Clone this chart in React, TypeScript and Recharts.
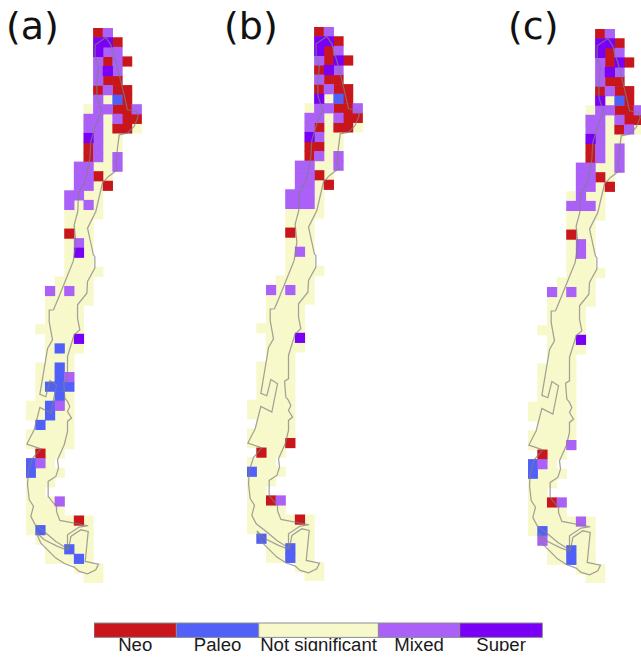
import { Bar, BarChart, Scatter, ScatterChart, XAxis, YAxis } from "recharts";

type Cell = [number, number]; // [column, row] on the grid

// study grid: [row, first column, last column]
const gridRows: [number, number, number][] = [
  [0, 7, 8], [1, 7, 9], [2, 7, 9], [3, 7, 10], [4, 7, 9], [5, 7, 9], [6, 7, 10], [7, 7, 10],
  [8, 6, 11], [9, 6, 11], [10, 6, 11], [11, 6, 9], [12, 6, 9], [13, 6, 9], [14, 5, 9],
  [15, 5, 8], [16, 5, 8], [17, 4, 7], [18, 4, 7], [19, 4, 7], [20, 4, 6], [21, 4, 6],
  [22, 4, 6], [23, 4, 6], [24, 4, 6], [25, 4, 7], [26, 3, 6], [27, 2, 6], [28, 2, 6],
  [29, 2, 5], [30, 2, 5], [31, 1, 5], [32, 2, 5], [33, 2, 5], [34, 2, 4], [35, 1, 4],
  [36, 1, 4], [37, 1, 4], [38, 1, 4], [39, 0, 4], [40, 0, 4], [41, 1, 4], [42, 0, 4],
  [43, 0, 4], [44, 1, 3], [45, 0, 2], [46, 0, 3], [47, 0, 2], [48, 0, 1], [49, 0, 3],
  [50, 0, 3], [51, 0, 6], [52, 0, 6], [53, 1, 6], [54, 2, 6], [55, 2, 6], [56, 5, 7], [57, 6, 7],
];

// panel (a)
const neoA: Cell[] = [
  [7, 0], [9, 1], [8, 3], [10, 3], [8, 5], [9, 5], [7, 6], [9, 6], [10, 6], [10, 7], [9, 8], [10, 8],
  [10, 9], [11, 9], [9, 10], [10, 10], [6, 12], [6, 13], [7, 15], [8, 16], [4, 21], [1, 44], [5, 51],
];
const paleoA: Cell[] = [
  [9, 7], [3, 33], [3, 35], [3, 36], [2, 37], [3, 37], [4, 37], [3, 38], [2, 39], [2, 40], [1, 41],
  [0, 45], [0, 46], [1, 52], [4, 54], [5, 55],
];
const mixedA: Cell[] = [
  [8, 0], [8, 2], [9, 2], [7, 3], [9, 3], [7, 4], [9, 4], [7, 5], [8, 6], [7, 7], [7, 8], [8, 8], [11, 8],
  [6, 9], [7, 9], [9, 9], [6, 10], [7, 10], [7, 11], [7, 12], [7, 13], [9, 13], [5, 14], [6, 14], [9, 14],
  [5, 15], [6, 15], [5, 16], [6, 16], [4, 17], [5, 17], [4, 18], [6, 18], [5, 22], [2, 27], [4, 27],
  [4, 36], [3, 39], [1, 45], [3, 49],
];
const superA: Cell[] = [[7, 1], [8, 1], [7, 2], [8, 4], [6, 11], [5, 23], [5, 32]];

// panel (b)
const neoB: Cell[] = [
  [7, 0], [9, 1], [8, 2], [8, 3], [10, 3], [7, 4], [8, 5], [9, 5], [7, 6], [9, 6], [10, 6], [10, 7],
  [9, 8], [10, 8], [10, 9], [11, 9], [7, 10], [9, 10], [10, 10], [6, 12], [7, 12], [6, 13], [7, 15],
  [8, 16], [4, 21], [4, 43], [1, 44], [2, 49], [5, 51],
];
const paleoB: Cell[] = [[9, 7], [0, 46], [1, 53], [4, 54], [4, 55]];
const mixedB: Cell[] = [
  [8, 0], [9, 2], [7, 3], [9, 4], [7, 5], [8, 6], [7, 8], [8, 8], [11, 8], [6, 9], [7, 9], [9, 9], [6, 10],
  [7, 11], [7, 13], [9, 13], [5, 14], [6, 14], [9, 14], [5, 15], [6, 15], [5, 16], [6, 16], [4, 17],
  [5, 17], [6, 17], [4, 18], [5, 18], [6, 18], [5, 23], [2, 27], [4, 27], [3, 49],
];
const superB: Cell[] = [[7, 1], [8, 1], [7, 2], [9, 3], [8, 4], [7, 7], [6, 11], [5, 32]];

// panel (c)
const neoC: Cell[] = [
  [7, 0], [9, 1], [8, 2], [8, 3], [10, 3], [8, 5], [9, 5], [7, 6], [9, 6], [10, 6], [10, 7], [9, 8], [10, 8],
  [10, 9], [11, 9], [9, 10], [6, 12], [6, 13], [7, 15], [8, 16], [4, 21], [1, 44], [2, 49],
];
const paleoC: Cell[] = [[9, 7], [0, 45], [0, 46], [1, 52], [4, 54], [4, 55]];
const mixedC: Cell[] = [
  [8, 0], [9, 2], [7, 3], [7, 4], [9, 4], [7, 5], [8, 6], [7, 8], [8, 8], [11, 8], [6, 9], [7, 9], [9, 9],
  [6, 10], [7, 10], [10, 10], [7, 11], [7, 12], [9, 12], [7, 13], [9, 13], [5, 14], [6, 14], [9, 14],
  [5, 15], [6, 15], [5, 16], [6, 16], [5, 17], [4, 18], [5, 18], [6, 18], [5, 22], [5, 23], [2, 27],
  [4, 27], [4, 43], [1, 45], [3, 49], [5, 51], [1, 53],
];
const superC: Cell[] = [[7, 1], [8, 1], [7, 2], [9, 3], [8, 4], [7, 7], [6, 11], [5, 32]];

// country outline, in grid units
const outlineMain: Cell[] = [
  [8.29, 0.99], [7.18, 1.76], [7.18, 2.98], [7.53, 4.02], [7.36, 5.6], [7.36, 7.16], [7.84, 8.73],
  [7.25, 10.12], [6.73, 11.86], [6.63, 13.6], [6.15, 16.05], [5.45, 17.26], [5.38, 19.18], [5.0, 20.6],
  [5.18, 22.5], [4.9, 24.4], [4.14, 26.3], [3.38, 28.2], [2.86, 29.46], [2.41, 29.5], [2.41, 30.7],
  [2.75, 32.6], [2.24, 33.5], [1.44, 38.3], [2.06, 38.55], [2.48, 36.85], [3.17, 37.3], [2.58, 40.26],
  [1.44, 39.67], [0.85, 42.0], [0.09, 43.5], [1.54, 44.0], [0.68, 45.0], [0.23, 46.4], [0.16, 47.75],
  [0.33, 49.3], [0.78, 50.0], [0.5, 51.06], [0.96, 51.94], [2.06, 52.8], [3.1, 53.68], [4.31, 54.44],
  [4.31, 52.98], [5.52, 52.18], [6.46, 52.04], [3.52, 51.48], [3.17, 50.56], [3.17, 49.85], [2.93, 49.77],
  [2.3, 48.97], [2.3, 47.4], [3.1, 46.88], [3.38, 46.0], [3.27, 45.14], [3.97, 43.57], [4.31, 42.18],
  [4.31, 41.13], [4.73, 40.78], [4.31, 40.09], [4.55, 39.56], [4.31, 39.04], [4.03, 38.69], [3.9, 37.02],
  [4.31, 36.78], [4.31, 34.34], [5.0, 32.07], [5.59, 31.55], [5.35, 30.33], [5.35, 28.94], [6.32, 27.72],
  [6.39, 26.5], [7.15, 25.1], [7.15, 23.9], [7.0, 23.71], [6.39, 20.92], [7.25, 19.18], [7.94, 16.22],
  [8.57, 15.52], [9.5, 14.83], [9.33, 14.3], [9.5, 12.56], [9.68, 11.17], [10.54, 10.99], [11.23, 10.3],
  [11.65, 9.25], [11.51, 8.73], [10.54, 8.55], [10.19, 6.99], [9.85, 5.59], [9.33, 3.5], [8.98, 2.46],
  [8.81, 1.76], [8.29, 0.99],
];
const outlineSouth: Cell[] = [
  [4.31, 54.6], [3.27, 54.2], [1.89, 53.5], [1.03, 52.7], [1.54, 53.85], [3.1, 55.42], [4.03, 56.01],
  [5.0, 56.36], [5.52, 56.81], [6.39, 57.06], [7.25, 56.64], [7.53, 56.05], [6.15, 55.77], [6.46, 52.63],
  [5.7, 52.46], [4.66, 53.15], [4.41, 54.55],
];

const legendLabels = ["Neo", "Paleo", "Not significant", "Mixed", "Super"];
const legendColors = ["#c9161d", "#5060f8", "#f8f9cb", "#ab60f8", "#7a00f5"];
const legendSpans = [82.4, 82.3, 119.7, 81.3, 82.7];

const COLS = 13;
const ROWS = 58;
const CELL_W = 9.63;
const CELL_H = 9.565;

const toPoints = (cells: Cell[]) => cells.map(([c, r]) => ({ x: c + 0.5, y: r + 0.5 }));
const toLine = (cells: Cell[]) => cells.map(([c, r]) => ({ x: c, y: r }));

const gridCells: Cell[] = gridRows.flatMap(([r, first, last]) => {
  const row: Cell[] = [];
  for (let c = first; c <= last; c++) row.push([c, r]);
  return row;
});

// grid square, a bit oversize so no seams show between neighbours
const square = (color: string) => (props: any) => (
  <rect
    x={props.cx - CELL_W / 2 - 0.3}
    y={props.cy - CELL_H / 2 - 0.3}
    width={CELL_W + 0.6}
    height={CELL_H + 0.6}
    fill={color}
  />
);

function Panel({ left, top, neo, paleo, mixed, sup }: any) {
  const line = { stroke: "#808080", strokeOpacity: 0.72, strokeWidth: 1.25, fill: "none" };
  return (
    <div style={{ position: "absolute", left, top }}>
      <ScatterChart
        width={COLS * CELL_W}
        height={ROWS * CELL_H}
        margin={{ top: 0, right: 0, bottom: 0, left: 0 }}
      >
        <XAxis type="number" dataKey="x" domain={[0, COLS]} hide />
        <YAxis type="number" dataKey="y" domain={[0, ROWS]} reversed hide />
        <Scatter data={toPoints(gridCells)} shape={square(legendColors[2])} isAnimationActive={false} />
        <Scatter data={toPoints(neo)} shape={square(legendColors[0])} isAnimationActive={false} />
        <Scatter data={toPoints(paleo)} shape={square(legendColors[1])} isAnimationActive={false} />
        <Scatter data={toPoints(mixed)} shape={square(legendColors[3])} isAnimationActive={false} />
        <Scatter data={toPoints(sup)} shape={square(legendColors[4])} isAnimationActive={false} />
        <Scatter data={toLine(outlineMain)} line={line} shape={() => <g />} isAnimationActive={false} />
        <Scatter data={toLine(outlineSouth)} line={line} shape={() => <g />} isAnimationActive={false} />
      </ScatterChart>
    </div>
  );
}

function PanelTag({ text, left }: { text: string; left: number }) {
  return (
    <div
      style={{
        position: "absolute",
        left,
        top: 4,
        fontFamily: "DejaVu Sans",
        fontSize: 38,
        lineHeight: "45px",
        color: "#111",
      }}
    >
      {text}
    </div>
  );
}

function Legend() {
  const row = [Object.fromEntries(legendLabels.map((name, i) => [name, legendSpans[i]]))];
  const total = legendSpans.reduce((a, b) => a + b, 0);
  return (
    <div style={{ position: "absolute", left: 94.3, top: 610 }}>
      <BarChart
        layout="vertical"
        width={total}
        height={41}
        data={row}
        margin={{ top: 0, right: 0, bottom: 0, left: 0 }}
        barCategoryGap={0}
      >
        <XAxis type="number" domain={[0, total]} hide />
        <YAxis type="category" hide />
        {legendLabels.map((name, i) => (
          <Bar
            key={name}
            dataKey={name}
            stackId="legend"
            barSize={14.4}
            fill={legendColors[i]}
            stroke="#8d8d95"
            strokeWidth={1}
            isAnimationActive={false}
            label={(p: any) => (
              <text
                x={p.x + p.width / 2}
                y={40.7}
                textAnchor="middle"
                fontFamily="Liberation Sans"
                fontSize={18.6}
                fill="#1a1a1a"
              >
                {name}
              </text>
            )}
          />
        ))}
      </BarChart>
    </div>
  );
}

export default function App() {
  return (
    <div
      style={{
        position: "absolute",
        left: 0,
        top: 0,
        width: 641,
        height: 657,
        overflow: "hidden",
        background: "#fff",
      }}
    >
      <Panel left={25.6} top={28} neo={neoA} paleo={paleoA} mixed={mixedA} sup={superA} />
      <Panel left={246.8} top={26.5} neo={neoB} paleo={paleoB} mixed={mixedB} sup={superB} />
      <Panel left={527.6} top={28.7} neo={neoC} paleo={paleoC} mixed={mixedC} sup={superC} />
      <PanelTag text="(a)" left={6} />
      <PanelTag text="(b)" left={224} />
      <PanelTag text="(c)" left={508} />
      <Legend />
    </div>
  );
}
